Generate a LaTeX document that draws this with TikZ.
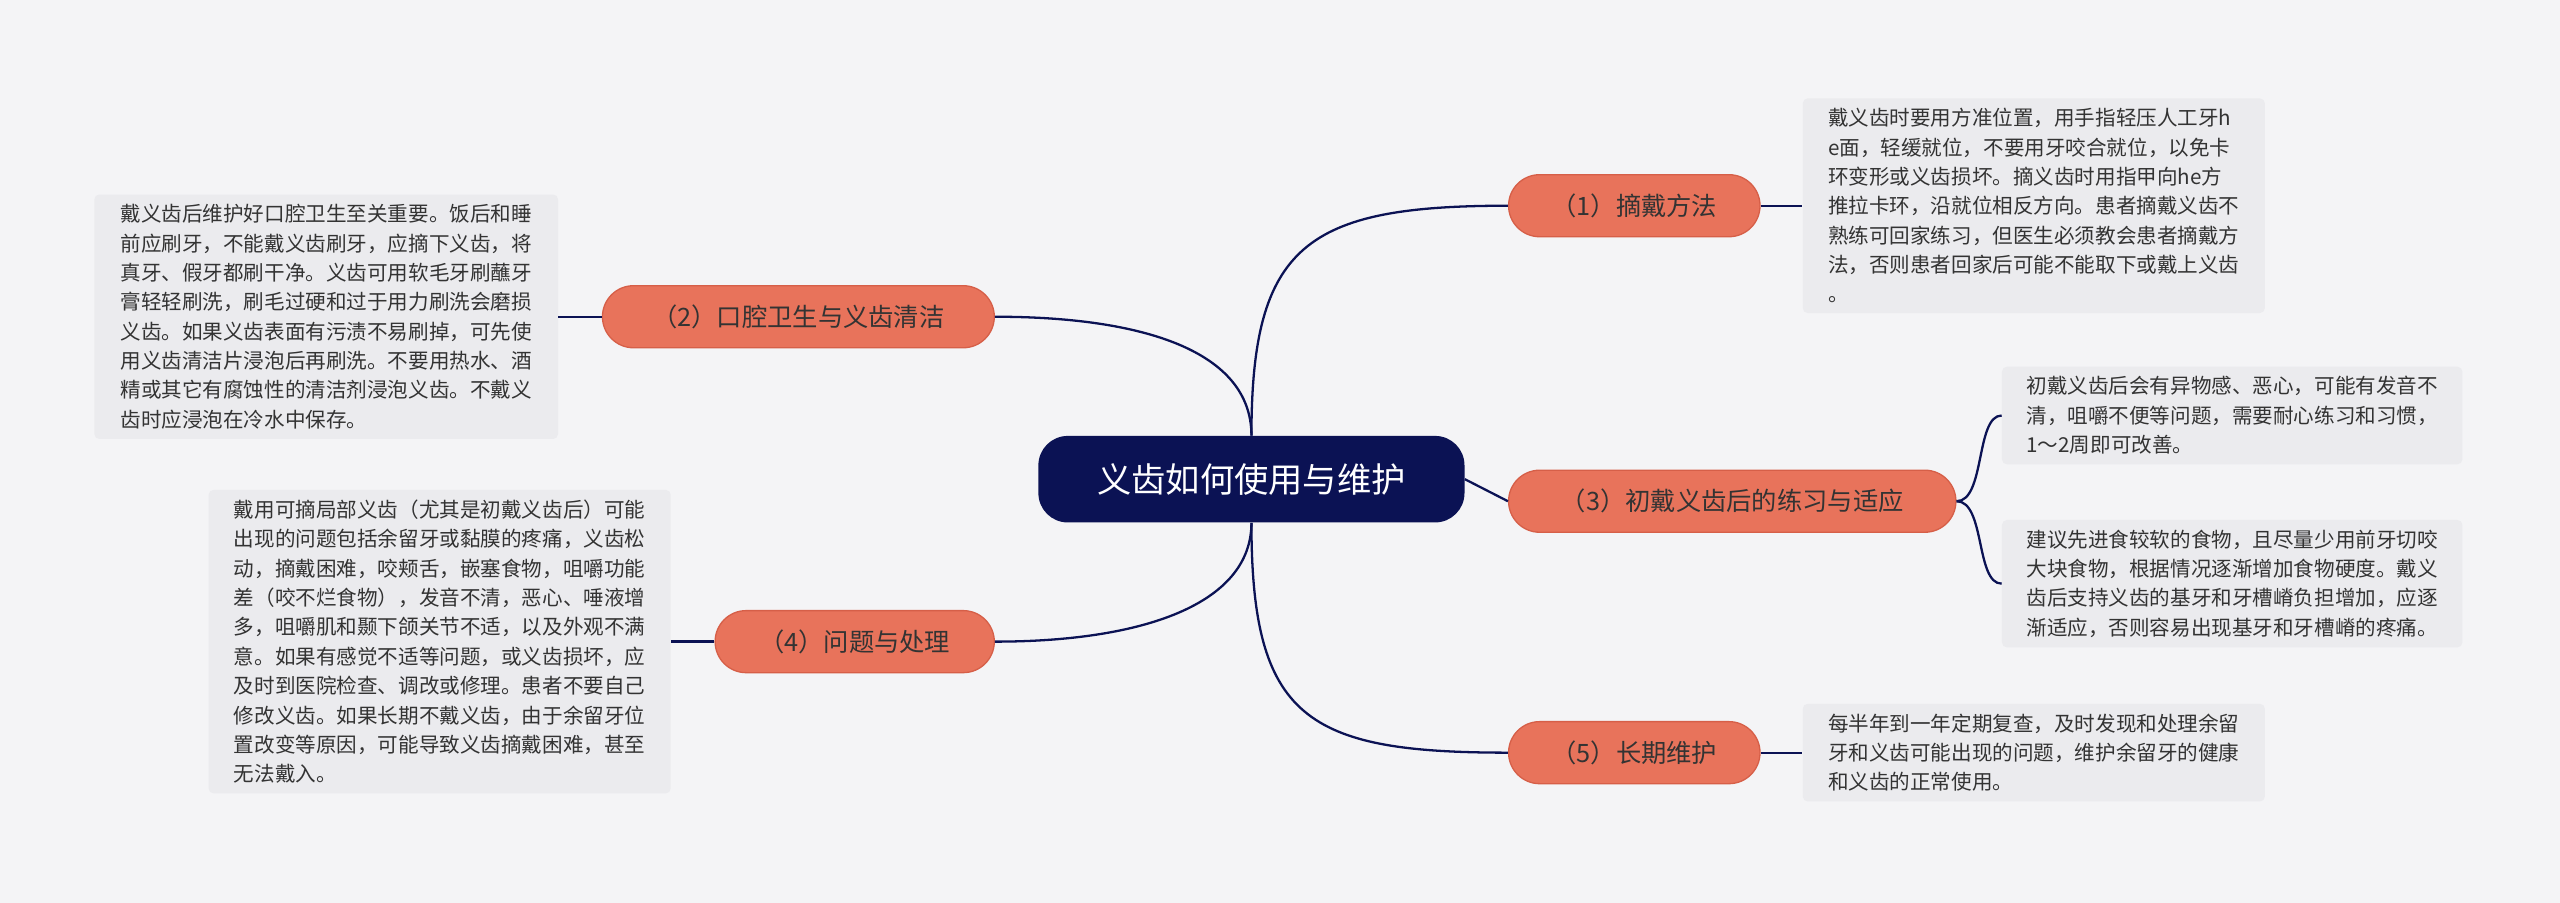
\documentclass[tikz,border=0pt]{standalone}
\usepackage{fontspec}
\setmainfont{Noto Sans CJK SC}
\definecolor{bg}{HTML}{F4F4F6}
\definecolor{navy}{HTML}{0B1254}
\definecolor{salmon}{HTML}{E8735B}
\definecolor{salmonb}{HTML}{D65F48}
\definecolor{leaf}{HTML}{EBEBEE}
\definecolor{txt}{HTML}{333333}
\begin{document}
\begin{tikzpicture}[x=1pt,y=-1pt,
  centre/.style={fill=navy,text=white,rounded corners=18pt,minimum width=261pt,minimum height=53pt,font=\fontsize{21}{24}\selectfont},
  branch/.style={fill=salmon,draw=salmonb,line width=0.8pt,text=txt,rounded corners=19pt,minimum height=38pt,inner xsep=14pt,font=\fontsize{15.5}{18}\selectfont},
  leafbox/.style={fill=leaf,rounded corners=3pt,text=txt,align=left,inner xsep=7pt,inner ysep=6pt,font=\fontsize{12.6}{18}\selectfont},
  link/.style={draw=navy,line width=1.4pt}]
\fill[bg] (0,0) rectangle (1568,553);
\useasboundingbox (0,0) rectangle (1568,553);
\node[centre] (c) at (766.5,293.5) {义齿如何使用与维护};
\node[branch,minimum width=154pt] (b1) at (1001,126) {（1）摘戴方法};
\node[branch,minimum width=240pt] (b2) at (489,194) {（2）口腔卫生与义齿清洁};
\node[branch,minimum width=274pt] (b3) at (1061,307) {（3）初戴义齿后的练习与适应};
\node[branch,minimum width=171pt] (b4) at (523.5,393) {（4）问题与处理};
\node[branch,minimum width=154pt] (b5) at (1001,461) {（5）长期维护};
\node[leafbox,minimum width=283pt,anchor=west] (l1) at (1104,126) {戴义齿时要用方准位置，用手指轻压人工牙h\\e面，轻缓就位，不要用牙咬合就位，以免卡\\环变形或义齿损坏。摘义齿时用指甲向he方\\推拉卡环，沿就位相反方向。患者摘戴义齿不\\熟练可回家练习，但医生必须教会患者摘戴方\\法，否则患者回家后可能不能取下或戴上义齿\\。};
\node[leafbox,minimum width=284pt,anchor=east] (l2) at (342,194) {戴义齿后维护好口腔卫生至关重要。饭后和睡\\前应刷牙，不能戴义齿刷牙，应摘下义齿，将\\真牙、假牙都刷干净。义齿可用软毛牙刷蘸牙\\膏轻轻刷洗，刷毛过硬和过于用力刷洗会磨损\\义齿。如果义齿表面有污渍不易刷掉，可先使\\用义齿清洁片浸泡后再刷洗。不要用热水、酒\\精或其它有腐蚀性的清洁剂浸泡义齿。不戴义\\齿时应浸泡在冷水中保存。};
\node[leafbox,minimum width=282pt,anchor=west] (l3a) at (1226,254.5) {初戴义齿后会有异物感、恶心，可能有发音不\\清，咀嚼不便等问题，需要耐心练习和习惯，\\1～2周即可改善。};
\node[leafbox,minimum width=282pt,anchor=west] (l3b) at (1226,357.5) {建议先进食较软的食物，且尽量少用前牙切咬\\大块食物，根据情况逐渐增加食物硬度。戴义\\齿后支持义齿的基牙和牙槽嵴负担增加，应逐\\渐适应，否则容易出现基牙和牙槽嵴的疼痛。};
\node[leafbox,minimum width=283pt,anchor=east] (l4) at (411,393) {戴用可摘局部义齿（尤其是初戴义齿后）可能\\出现的问题包括余留牙或黏膜的疼痛，义齿松\\动，摘戴困难，咬颊舌，嵌塞食物，咀嚼功能\\差（咬不烂食物），发音不清，恶心、唾液增\\多，咀嚼肌和颞下颌关节不适，以及外观不满\\意。如果有感觉不适等问题，或义齿损坏，应\\及时到医院检查、调改或修理。患者不要自己\\修改义齿。如果长期不戴义齿，由于余留牙位\\置改变等原因，可能导致义齿摘戴困难，甚至\\无法戴入。};
\node[leafbox,minimum width=283pt,anchor=west] (l5) at (1104,461) {每半年到一年定期复查，及时发现和处理余留\\牙和义齿可能出现的问题，维护余留牙的健康\\和义齿的正常使用。};
\begin{scope}[on background layer/.style={}]
\draw[link] (c.north) .. controls (766.5,150) and (800,126) .. (b1.west);
\draw[link] (c.north) .. controls (766.5,215) and (700,194) .. (b2.east);
\draw[link] (c.east) -- (b3.west);
\draw[link] (c.south) .. controls (766.5,370) and (700,393) .. (b4.east);
\draw[link] (c.south) .. controls (766.5,440) and (800,461) .. (b5.west);
\draw[link] (b1.east) -- (l1.west);
\draw[link] (b2.west) -- (l2.east);
\draw[link] (b4.west) -- (l4.east);
\draw[link] (b5.east) -- (l5.west);
\draw[link] (b3.east) .. controls (1216,307) and (1210,254.5) .. (l3a.west);
\draw[link] (b3.east) .. controls (1216,307) and (1210,357.5) .. (l3b.west);
\end{scope}
\end{tikzpicture}
\end{document}
